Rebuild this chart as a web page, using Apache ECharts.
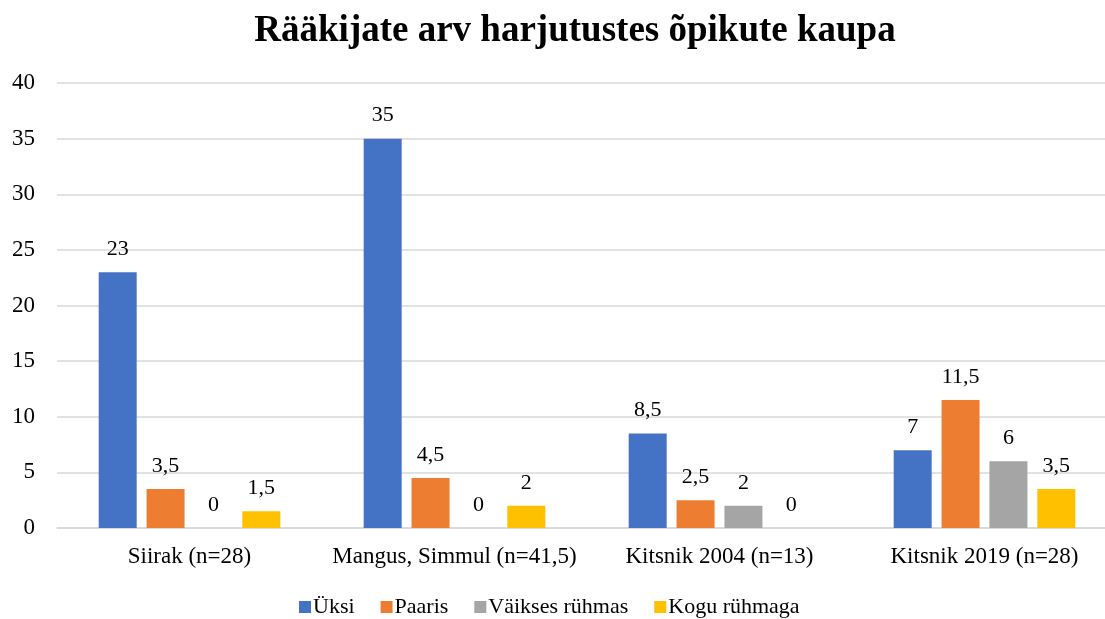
<!DOCTYPE html>
<html>
<head>
<meta charset="utf-8">
<script src="https://cdn.jsdelivr.net/npm/echarts@6/dist/echarts.min.js"></script>
<style>
  html, body { margin: 0; padding: 0; background: #fff; overflow: hidden; }
  #chart { width: 1118px; height: 619px; }
</style>
</head>
<body>
<div id="chart"></div>
<script>
const titleText = 'Rääkijate arv harjutustes õpikute kaupa';
const categories = ['Siirak (n=28)', 'Mangus, Simmul (n=41,5)', 'Kitsnik 2004 (n=13)', 'Kitsnik 2019 (n=28)'];
const seriesNames = ['Üksi', 'Paaris', 'Väikses rühmas', 'Kogu rühmaga'];
const uksi = [23, 35, 8.5, 7];
const paaris = [3.5, 4.5, 2.5, 11.5];
const vaikses = [0, 0, 2, 6];
const kogu = [1.5, 2, 0, 3.5];
const colors = ['#4472C4', '#ED7D31', '#A5A5A5', '#FFC000'];

const font = '"Liberation Serif", "Times New Roman", serif';
const fmt = p => String(p.value).replace('.', ',');

// the plot runs past the right edge of the 1105px view, so the canvas is a bit wider
const chart = echarts.init(document.getElementById('chart'));
chart.setOption({
    animation: false,
    color: colors,
    title: {
        text: titleText,
        left: 570,
        top: 8,
        textAlign: 'center',
        textStyle: { fontFamily: font, fontSize: 37, fontWeight: 'bold', color: '#000' }
    },
    legend: {
        data: seriesNames,
        top: 591,
        left: 294,
        itemWidth: 12,
        itemHeight: 12,
        itemGap: 26,
        icon: 'rect',
        textStyle: { fontFamily: font, fontSize: 22, color: '#000', padding: [0, 0, 0, -3] }
    },
    grid: { left: 57, right: 1, top: 83, bottom: 91, containLabel: false },
    xAxis: {
        type: 'category',
        data: categories,
        axisLine: { show: true, lineStyle: { color: '#d9d9d9', width: 1.5 } },
        axisTick: { show: false },
        axisLabel: { interval: 0, fontFamily: font, fontSize: 23, color: '#000', margin: 17 }
    },
    yAxis: {
        type: 'value',
        min: 0,
        max: 40,
        interval: 5,
        axisLine: { show: false },
        axisTick: { show: false },
        axisLabel: { fontFamily: font, fontSize: 23, color: '#000', margin: 22 },
        splitLine: { lineStyle: { color: '#d9d9d9', width: 1.5 } }
    },
    series: [uksi, paaris, vaikses, kogu].map((d, i) => ({
        name: seriesNames[i],
        type: 'bar',
        data: d,
        barWidth: 38,
        barGap: '26%',
        label: {
            show: true,
            position: 'top',
            distance: 12,
            formatter: fmt,
            fontFamily: font,
            fontSize: 22,
            color: '#000'
        }
    }))
});
</script>
</body>
</html>
